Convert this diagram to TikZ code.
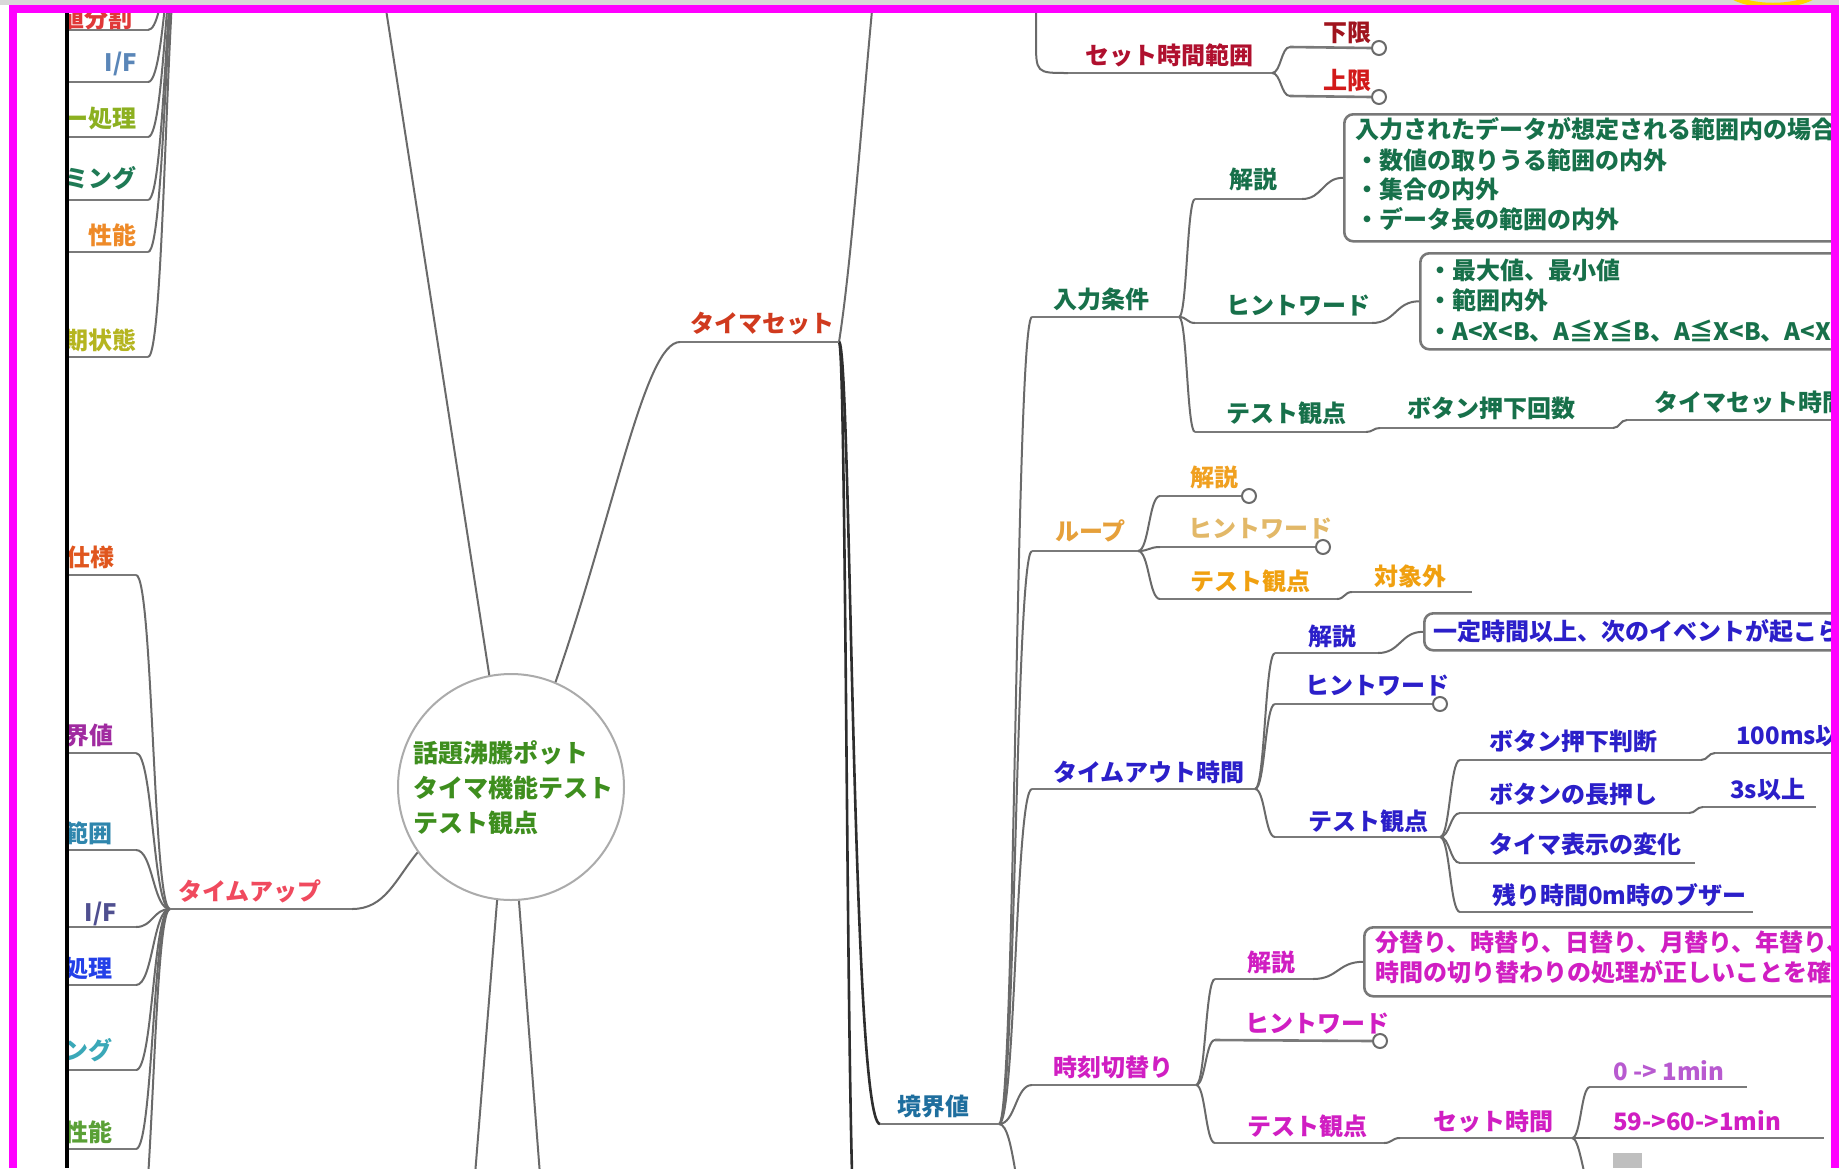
\documentclass[tikz,border=0pt]{standalone}
\usepackage{fontspec}
\setmainfont{Noto Sans CJK JP}
\usetikzlibrary{calc}
\definecolor{linegray}{HTML}{6A6A6A}
\definecolor{ulgray}{HTML}{7A7A7A}
\definecolor{trunkc}{HTML}{2E2E2E}
\definecolor{circgray}{HTML}{ABABAB}
\definecolor{boxgray}{HTML}{787878}
\definecolor{cgreen}{HTML}{3E8E1E}
\definecolor{cts}{HTML}{D03A1E}
\definecolor{cstr}{HTML}{B0102E}
\definecolor{ckagen}{HTML}{A0141E}
\definecolor{cjogen}{HTML}{D21A1A}
\definecolor{cny}{HTML}{17704A}
\definecolor{clp}{HTML}{E6A03A}
\definecolor{clpa}{HTML}{F0A020}
\definecolor{clpb}{HTML}{E2B868}
\definecolor{clpc}{HTML}{F0A010}
\definecolor{cblue}{HTML}{2B1FC9}
\definecolor{cmag}{HTML}{D01EC2}
\definecolor{cmagl}{HTML}{B85AD0}
\definecolor{ckkv}{HTML}{1E6E9E}
\definecolor{ctu}{HTML}{F04A5E}
\definecolor{cla}{HTML}{E03838}
\definecolor{clb}{HTML}{5A86B8}
\definecolor{clc}{HTML}{8CB020}
\definecolor{cld}{HTML}{1F7A55}
\definecolor{cle}{HTML}{EE8A28}
\definecolor{clf}{HTML}{B5B520}
\definecolor{cma}{HTML}{E0561E}
\definecolor{cmb}{HTML}{A02AA0}
\definecolor{cmc}{HTML}{2F86AD}
\definecolor{cmd}{HTML}{4F4F90}
\definecolor{cme}{HTML}{2340E8}
\definecolor{cmf}{HTML}{3AA8B8}
\definecolor{cmg}{HTML}{5AA036}
\definecolor{cframe}{HTML}{FF00FF}
\definecolor{ctopgray}{HTML}{D8D8D8}
\definecolor{ylw}{HTML}{FFD200}
\newcommand{\mmlinkx}[4]{\draw[#1] let \p1=(#3), \p2=(#4), \n1={\x1+#2*(\x2-\x1)} in (\p1) .. controls (\n1,\y1) and (\n1,\y2) .. (\p2);}
\newcommand{\mmlink}[2]{\mmlinkx{conn}{0.5}{#1}{#2}}
\begin{document}
\begin{tikzpicture}[x=1pt,y=-1pt,
 lbl/.style={font=\bfseries\fontsize{24}{28}\selectfont, inner sep=0pt, anchor=base west, yshift=-9pt},
 lblr/.style={lbl, anchor=base east},
 conn/.style={draw=linegray, line width=2pt},
 trunk/.style={draw=trunkc, line width=2.6pt},
 ul/.style={draw=ulgray, line width=2.6pt},
 bx/.style={draw=boxgray, line width=2.6pt, rounded corners=9pt, inner sep=0pt, anchor=north west},
 knob/.style={circle, draw=linegray, fill=white, line width=2pt, minimum size=14pt, inner sep=0pt}]
\useasboundingbox (0,0) rectangle (1839,1168);
\fill[white] (0,0) rectangle (1839,1168);

% ---------- coordinates ----------
\coordinate (tsL) at (680,342); \coordinate (tsR) at (839,342);
\coordinate (tsUp) at (874,-10); \coordinate (tsDown) at (856,1240);
\coordinate (upL) at (383,-10);
\coordinate (btA) at (475,1175); \coordinate (btB) at (540,1175);
\coordinate (tuL) at (170,909); \coordinate (tuR) at (352,909);
\coordinate (tuDown) at (136,1260);
\coordinate (kkL) at (880,1124); \coordinate (kkR) at (999,1124);
\coordinate (kkDown) at (1032,1220);
\coordinate (stTop) at (1036,-10); \coordinate (stL) at (1068,73); \coordinate (stR) at (1272,73);
\coordinate (kgL) at (1290,47); \coordinate (jgL) at (1290,96);
\coordinate (nyL) at (1032,317); \coordinate (nyR) at (1179,317);
\coordinate (ksL) at (1195,199); \coordinate (ksR) at (1302,199);
\coordinate (hwL) at (1195,323); \coordinate (hwR) at (1372,323);
\coordinate (tpL) at (1195,432); \coordinate (tpR) at (1366,432);
\coordinate (bkL) at (1380,428); \coordinate (bkR) at (1613,428);
\coordinate (tmL) at (1627,420); \coordinate (tmR) at (1900,420);
\coordinate (lpL) at (1032,551); \coordinate (lpR) at (1138,551);
\coordinate (laL) at (1160,496); \coordinate (lbL) at (1160,547);
\coordinate (lcL) at (1160,599); \coordinate (lcR) at (1337,599);
\coordinate (ldL) at (1352,592); \coordinate (ldR) at (1472,592);
\coordinate (toL) at (1032,789); \coordinate (toR) at (1255,789);
\coordinate (taL) at (1275,653); \coordinate (taR) at (1378,653);
\coordinate (tbL) at (1275,704);
\coordinate (tcL) at (1275,837); \coordinate (tcR) at (1440,837);
\coordinate (b1L) at (1460,760); \coordinate (b1R) at (1701,760);
\coordinate (b1xL) at (1715,753); \coordinate (b1xR) at (1900,753);
\coordinate (b2L) at (1460,813); \coordinate (b2R) at (1689,813);
\coordinate (b2xL) at (1703,807); \coordinate (b2xR) at (1816,807);
\coordinate (b3L) at (1460,863); \coordinate (b3R) at (1695,863);
\coordinate (b4L) at (1460,912); \coordinate (b4R) at (1753,912);
\coordinate (jkL) at (1032,1085); \coordinate (jkR) at (1196,1085);
\coordinate (jaL) at (1215,979); \coordinate (jaR) at (1313,979);
\coordinate (jbL) at (1215,1040);
\coordinate (jcL) at (1215,1143); \coordinate (jcR) at (1384,1143);
\coordinate (sjL) at (1400,1138); \coordinate (sjR) at (1572,1138);
\coordinate (m1L) at (1590,1087); \coordinate (m1R) at (1747,1087);
\coordinate (m2L) at (1590,1138); \coordinate (m2R) at (1824,1138);
\coordinate (sjDown) at (1640,1260);
\coordinate (ltP) at (184,-90);
\coordinate (lt1R) at (148,30); \coordinate (lt2R) at (148,82); \coordinate (lt3R) at (148,137);
\coordinate (lt4R) at (148,200); \coordinate (lt5R) at (148,252); \coordinate (lt6R) at (148,357);
\coordinate (lm1R) at (136,575); \coordinate (lm2R) at (136,753); \coordinate (lm3R) at (136,850);
\coordinate (lm4R) at (136,927); \coordinate (lm5R) at (136,985); \coordinate (lm6R) at (136,1070);
\coordinate (lm7R) at (136,1149);

% ---------- center ----------
\node[circle, draw=circgray, line width=2pt, fill=white, minimum size=226pt, inner sep=0pt] (ctr) at (511,787) {};
\node[font=\bfseries\fontsize{25}{35}\selectfont, text=cgreen, align=left, anchor=north west, inner sep=0pt] (ctrtxt) at (413,740) {話題沸騰ポット\\タイマ機能テスト\\テスト観点};

% ---------- connectors ----------
\draw[conn] (ctr.101) -- (upL);
\draw[conn] (ctr.67) .. controls (615,510) and (645,342) .. (tsL);
\draw[conn] (ctr.215) .. controls (395,880) and (385,909) .. (tuR);
\draw[conn] (ctr.263) -- (btA);
\draw[conn] (ctr.274) -- (btB);
\draw[conn] (tsR) .. controls (852,260) and (864,90) .. (tsUp);
\mmlinkx{trunk}{0.45}{tsR}{tsDown}
\mmlinkx{trunk}{0.3}{tsR}{kkL}
\mmlink{kkR}{nyL}
\mmlink{kkR}{lpL}
\mmlink{kkR}{toL}
\mmlink{kkR}{jkL}
\mmlink{kkR}{kkDown}
\draw[conn] (stTop) -- (1036,40) .. controls (1036,73) .. (stL);
\mmlink{stR}{kgL}
\mmlink{stR}{jgL}
\mmlink{nyR}{ksL}
\mmlink{nyR}{hwL}
\mmlink{nyR}{tpL}
\mmlink{tpR}{bkL}
\mmlink{bkR}{tmL}
\mmlink{lpR}{laL}
\mmlink{lpR}{lbL}
\mmlink{lpR}{lcL}
\mmlink{lcR}{ldL}
\mmlink{toR}{taL}
\mmlink{toR}{tbL}
\mmlink{toR}{tcL}
\mmlink{tcR}{b1L}
\mmlink{tcR}{b2L}
\mmlink{tcR}{b3L}
\mmlink{tcR}{b4L}
\mmlink{b1R}{b1xL}
\mmlink{b2R}{b2xL}
\mmlink{jkR}{jaL}
\mmlink{jkR}{jbL}
\mmlink{jkR}{jcL}
\mmlink{jcR}{sjL}
\mmlink{sjR}{m1L}
\mmlink{sjR}{m2L}
\mmlinkx{conn}{0.2}{sjR}{sjDown}
\mmlink{tuL}{lm1R}
\mmlink{tuL}{lm2R}
\mmlink{tuL}{lm3R}
\mmlink{tuL}{lm4R}
\mmlink{tuL}{lm5R}
\mmlink{tuL}{lm6R}
\mmlink{tuL}{lm7R}
\mmlink{tuL}{tuDown}
\mmlink{ltP}{lt1R}
\mmlink{ltP}{lt2R}
\mmlink{ltP}{lt3R}
\mmlink{ltP}{lt4R}
\mmlink{ltP}{lt5R}
\mmlink{ltP}{lt6R}

% ---------- boxes ----------
\node[bx, minimum width=560pt, minimum height=127pt] (bx1) at (1343,113) {};
\node[bx, minimum width=480pt, minimum height=96pt] (bx2) at (1419,252) {};
\node[bx, minimum width=480pt, minimum height=37pt] (bx3) at (1423,612) {};
\node[bx, minimum width=540pt, minimum height=69pt] (bx4) at (1363,926) {};
\mmlink{ksR}{bx1.west}
\mmlink{hwR}{bx2.west}
\mmlink{taR}{bx3.west}
\mmlink{jaR}{bx4.west}

% ---------- knobs ----------
\node[knob] (kgK) at (1379,48) {};
\node[knob] (jgK) at (1379,97) {};
\node[knob] (laK) at (1249,496) {};
\node[knob] (lbK) at (1323,547) {};
\node[knob] (tbK) at (1440,704) {};
\node[knob] (jbK) at (1380,1041) {};

% ---------- underlines ----------
\draw[ul] (tsL) -- (tsR);
\draw[ul] (tuL) -- (tuR);
\draw[ul] (kkL) -- (kkR);
\draw[ul] (stL) -- (stR);
\draw[ul] (kgL) -- (kgK.west);
\draw[ul] (jgL) -- (jgK.west);
\draw[ul] (nyL) -- (nyR);
\draw[ul] (ksL) -- (ksR);
\draw[ul] (hwL) -- (hwR);
\draw[ul] (tpL) -- (tpR);
\draw[ul] (bkL) -- (bkR);
\draw[ul] (tmL) -- (tmR);
\draw[ul] (lpL) -- (lpR);
\draw[ul] (laL) -- (laK.west);
\draw[ul] (lbL) -- (lbK.west);
\draw[ul] (lcL) -- (lcR);
\draw[ul] (ldL) -- (ldR);
\draw[ul] (toL) -- (toR);
\draw[ul] (taL) -- (taR);
\draw[ul] (tbL) -- (tbK.west);
\draw[ul] (tcL) -- (tcR);
\draw[ul] (b1L) -- (b1R);
\draw[ul] (b1xL) -- (b1xR);
\draw[ul] (b2L) -- (b2R);
\draw[ul] (b2xL) -- (b2xR);
\draw[ul] (b3L) -- (b3R);
\draw[ul] (b4L) -- (b4R);
\draw[ul] (jkL) -- (jkR);
\draw[ul] (jaL) -- (jaR);
\draw[ul] (jbL) -- (jbK.west);
\draw[ul] (jcL) -- (jcR);
\draw[ul] (sjL) -- (sjR);
\draw[ul] (m1L) -- (m1R);
\draw[ul] (m2L) -- (m2R);
\foreach \c in {lt1R,lt2R,lt3R,lt4R,lt5R,lt6R,lm1R,lm2R,lm3R,lm4R,lm5R,lm6R,lm7R}
  \draw[ul] (\c) -- ($(\c)+(-90,0)$);
\fill[black!25] (1613,1153) rectangle (1642,1168);

% ---------- labels ----------
\node[lbl, text=cts] (ts) at (690,323) {タイマセット};
\node[lbl, text=ctu] (tu) at (178,891) {タイムアップ};
\node[lbl, text=ckkv] (kk) at (897,1106) {境界値};
\node[lbl, text=cstr] (st) at (1085,55) {セット時間範囲};
\node[lbl, text=ckagen] (kg) at (1323,32) {下限};
\node[lbl, text=cjogen] (jg) at (1323,80) {上限};
\node[lbl, text=cny] (ny) at (1053,299) {入力条件};
\node[lbl, text=cny] (ks) at (1229,179) {解説};
\node[lbl, text=cny] (hw) at (1226,305) {ヒントワード};
\node[lbl, text=cny] (tp) at (1226,413) {テスト観点};
\node[lbl, text=cny] (bk) at (1407,408) {ボタン押下回数};
\node[lbl, text=cny] (tm) at (1654,402) {タイマセット時間};
\node[lbl, text=cny] (bx1a) at (1355,129) {入力されたデータが想定される範囲内の場合と範囲外の場合};
\node[lbl, text=cny] (bx1b) at (1355,160) {・数値の取りうる範囲の内外};
\node[lbl, text=cny] (bx1c) at (1355,189) {・集合の内外};
\node[lbl, text=cny] (bx1d) at (1355,219) {・データ長の範囲の内外};
\node[lbl, text=cny] (bx2a) at (1428,270) {・最大値、最小値};
\node[lbl, text=cny] (bx2b) at (1428,300) {・範囲内外};
\node[lbl, text=cny] (bx2c) at (1428,331) {・A<X<B、A≦X≦B、A≦X<B、A<X≦B};
\node[lbl, text=clp] (lp) at (1055,531) {ループ};
\node[lbl, text=clpa] (la) at (1190,477) {解説};
\node[lbl, text=clpb] (lb) at (1188,528) {ヒントワード};
\node[lbl, text=clpc] (lc) at (1190,581) {テスト観点};
\node[lbl, text=clpc] (ld) at (1374,576) {対象外};
\node[lbl, text=cblue] (to) at (1053,772) {タイムアウト時間};
\node[lbl, text=cblue] (ta) at (1308,636) {解説};
\node[lbl, text=cblue] (bx3a) at (1433,631) {一定時間以上、次のイベントが起こらない場合};
\node[lbl, text=cblue] (tb) at (1305,685) {ヒントワード};
\node[lbl, text=cblue] (tc) at (1308,821) {テスト観点};
\node[lbl, text=cblue] (b1) at (1489,741) {ボタン押下判断};
\node[lbl, text=cblue] (b1x) at (1736,735) {100ms以下};
\node[lbl, text=cblue] (b2) at (1489,794) {ボタンの長押し};
\node[lbl, text=cblue] (b2x) at (1730,789) {3s以上};
\node[lbl, text=cblue] (b3) at (1489,844) {タイマ表示の変化};
\node[lbl, text=cblue] (b4) at (1492,895) {残り時間0m時のブザー};
\node[lbl, text=cmag] (jk) at (1053,1067) {時刻切替り};
\node[lbl, text=cmag] (ja) at (1247,962) {解説};
\node[lbl, text=cmag] (bx4a) at (1375,942) {分替り、時替り、日替り、月替り、年替り、など};
\node[lbl, text=cmag] (bx4b) at (1375,972) {時間の切り替わりの処理が正しいことを確認する};
\node[lbl, text=cmag] (jb) at (1245,1023) {ヒントワード};
\node[lbl, text=cmag] (jc) at (1247,1126) {テスト観点};
\node[lbl, text=cmag] (sj) at (1433,1121) {セット時間};
\node[lbl, text=cmagl] (m1) at (1613,1071) {0 -> 1min};
\node[lbl, text=cmag] (m2) at (1613,1121) {59->60->1min};

% ---------- left (clipped) labels ----------
\begin{scope}
\clip (68,13) rectangle (400,1168);
\node[lblr, text=cla] (lt1) at (133,18) {同値分割};
\node[lblr, text=clb] (lt2) at (137,62) {I/F};
\node[lblr, text=clc] (lt3) at (137,118) {エラー処理};
\node[lblr, text=cld] (lt4) at (137,178) {タイミング};
\node[lblr, text=cle] (lt5) at (137,235) {性能};
\node[lblr, text=clf] (lt6) at (137,340) {初期状態};
\node[lblr, text=cma] (lm1) at (115,557) {機能仕様};
\node[lblr, text=cmb] (lm2) at (114,735) {境界値};
\node[lblr, text=cmc] (lm3) at (113,833) {設定範囲};
\node[lblr, text=cmd] (lm4) at (117,912) {I/F};
\node[lblr, text=cme] (lm5) at (113,968) {エラー処理};
\node[lblr, text=cmf] (lm6) at (113,1050) {タイミング};
\node[lblr, text=cmg] (lm7) at (113,1132) {性能};
\end{scope}
\fill[white] (17,13) rectangle (65,1168);
\fill[black] (65,13) rectangle (68.5,1168);

% ---------- frame ----------
\fill[ctopgray] (0,0) rectangle (1839,5);
\draw[ylw, line width=5pt] (1728,-6) .. controls (1748,9) and (1798,9) .. (1818,-6);
\fill[cframe] (9,5) rectangle (1839,13);
\fill[cframe] (9,5) rectangle (17,1168);
\fill[cframe] (1831,5) rectangle (1839,1168);
\end{tikzpicture}
\end{document}
